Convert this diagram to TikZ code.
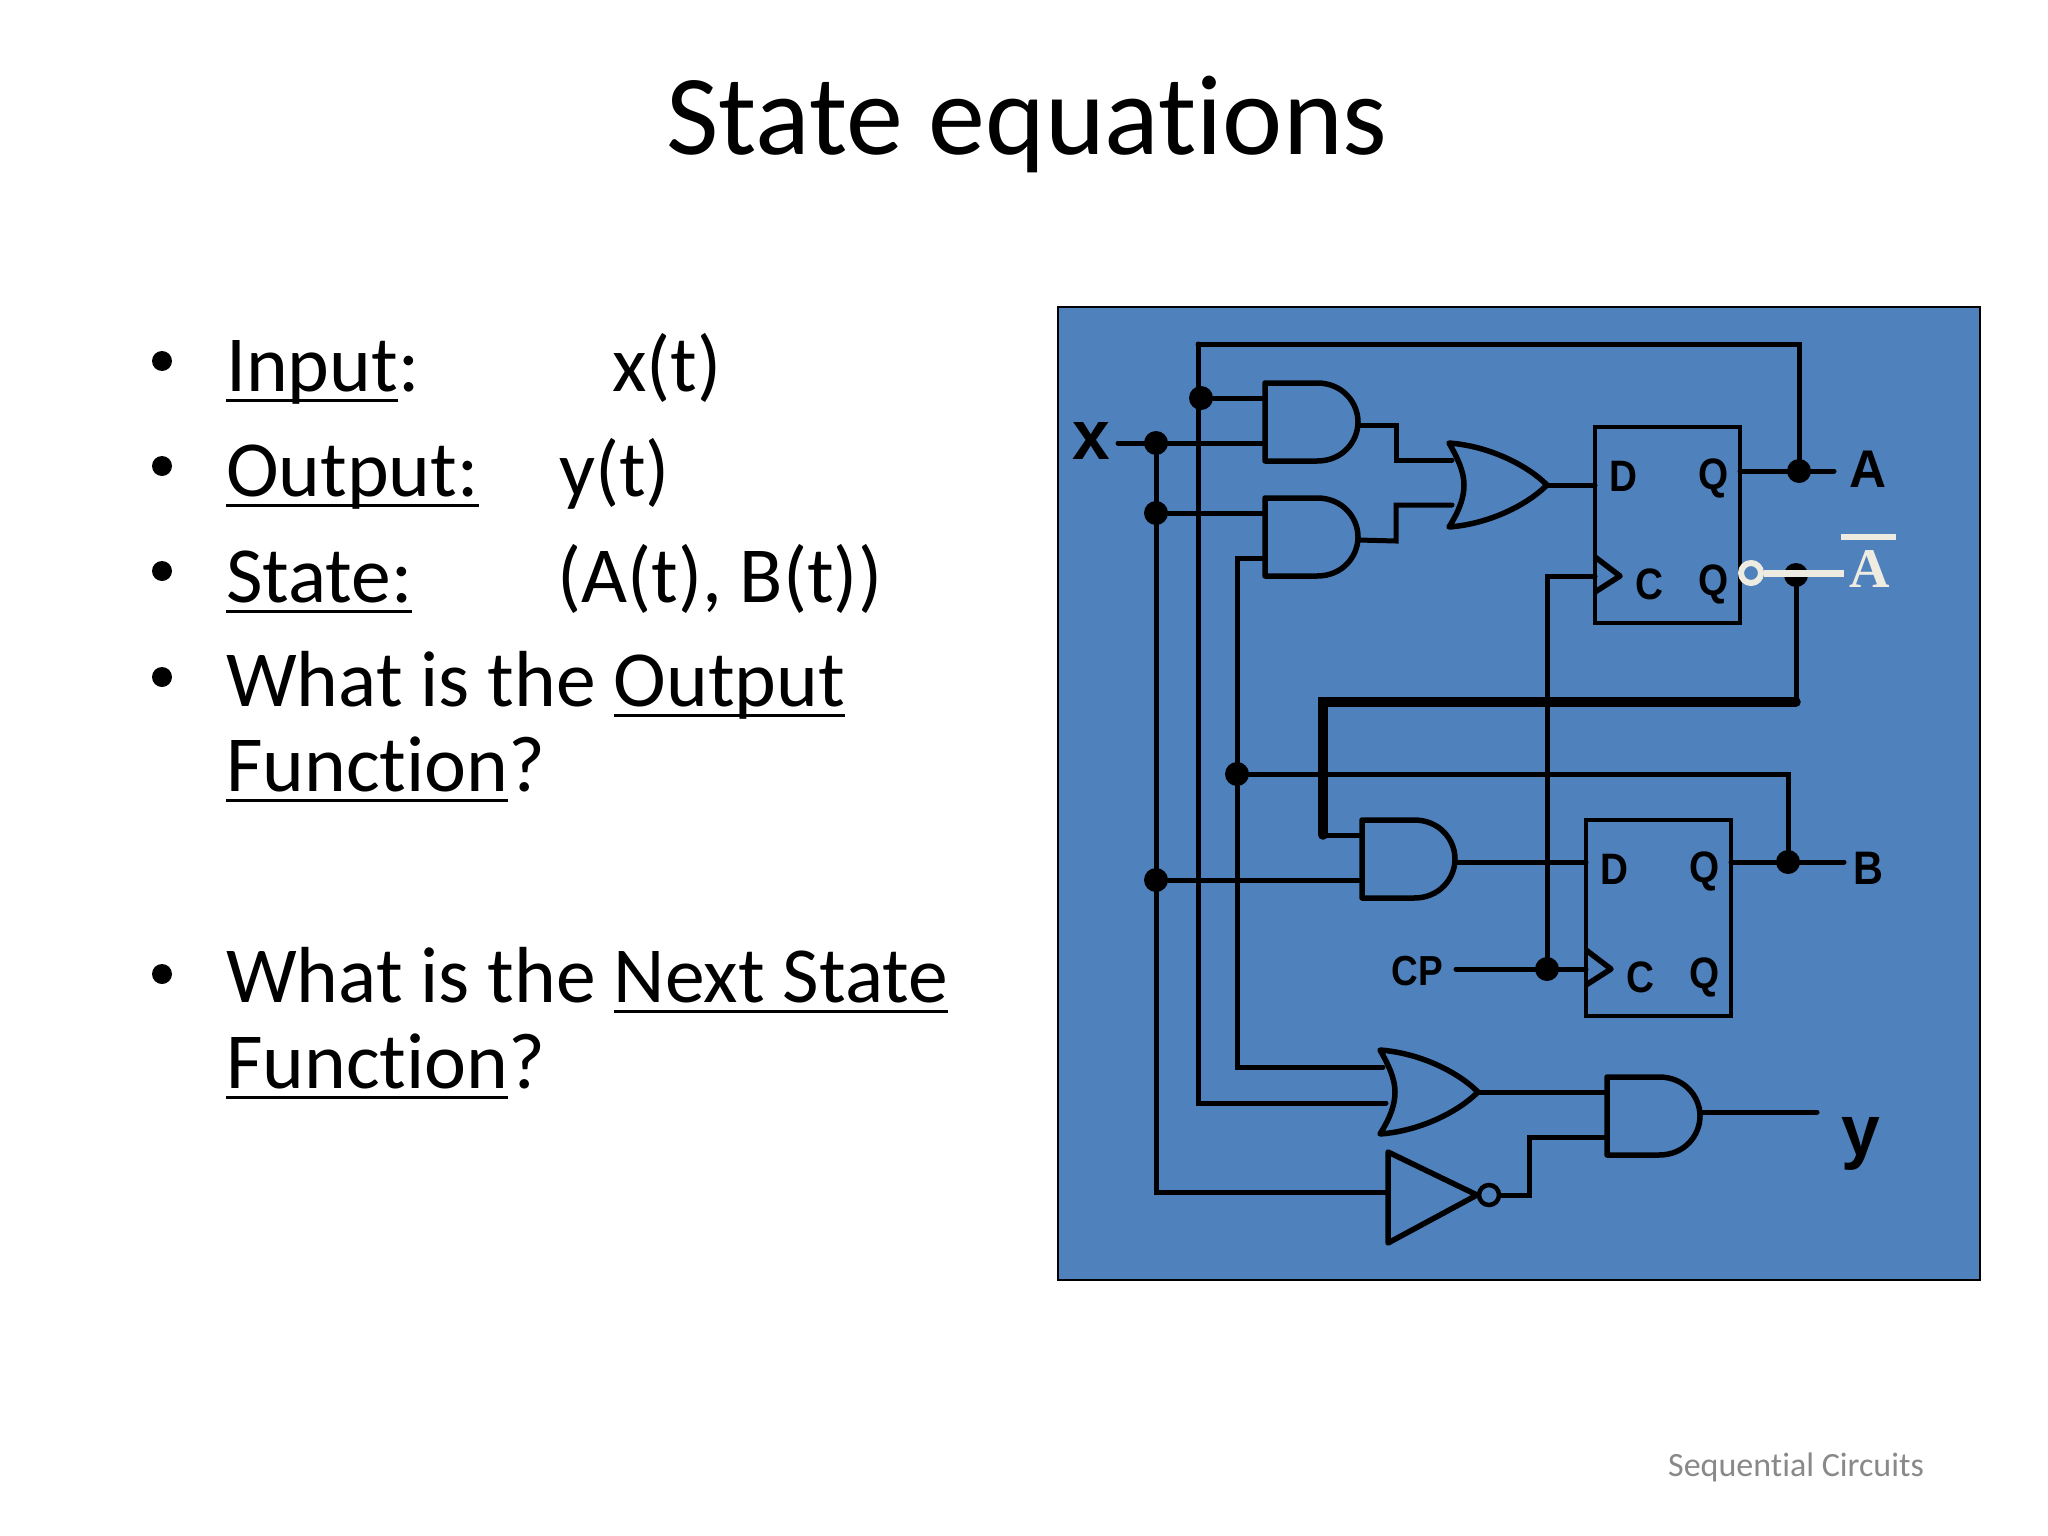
\documentclass[tikz,border=0pt]{standalone}
\usepackage{fontspec}
\setmainfont[Ligatures=NoCommon]{Carlito}
\newfontfamily\labelfont{Liberation Sans}
\newfontfamily\barfont{Liberation Serif}
\definecolor{slideblue}{HTML}{4F81BD}
\definecolor{barcream}{HTML}{EEECE1}
\definecolor{footgray}{HTML}{898989}
\newlength{\ulwd}
\newcommand{\ulin}[1]{\settowidth{\ulwd}{#1}\rlap{\rule[-11pt]{\ulwd}{3.5pt}}#1}
\newcommand{\txt}[1]{\fontsize{#1}{#1}\selectfont}
\tikzset{
	wire/.style={black, line width=5pt, line cap=round, line join=miter},
	gate line/.style={black, line width=5.5pt, line join=round},
	ff line/.style={black, line width=4pt},
	dot/.style={circle, fill=black, inner sep=0pt, minimum size=24pt},
	item/.style={anchor=base west, inner sep=0pt, font=\txt{79.5}},
	bulletmark/.style={circle, fill=black, inner sep=0pt, minimum size=20pt},
	pin/.style={anchor=base, inner sep=0pt, xscale=.88, font=\labelfont\bfseries\txt{#1}},
	and gate/.pic={
		\draw [gate line] (0,0) -- (52,0) .. controls (78,0) and (93,20) .. (93,39)
			.. controls (93,58) and (78,78) .. (52,78) -- (0,78) -- cycle;
		\coordinate (-a) at (0,15);
		\coordinate (-b) at (0,60);
		\coordinate (-o) at (93,42);
	},
	or gate/.pic={
		\draw [gate line] (0,0) .. controls (40,3) and (78,22) .. (98,42)
			.. controls (78,62) and (40,81) .. (0,84)
			.. controls (10,68) and (15,55) .. (15,42)
			.. controls (15,28) and (8,14) .. (0,0) -- cycle;
		\coordinate (-a) at (3,17);
		\coordinate (-b) at (3,62);
		\coordinate (-o) at (98,42);
	},
	flip flop/.pic={
		\draw [ff line] (0,0) rectangle (145,196);
		\draw [gate line] (0,130) -- (25,149) -- (0,165);
		\node [pin=44] (-d) at (28,64) {D};
		\node [pin=44] (-q) at (119,62) {Q};
		\node [pin=44] (-c) at (54,172) {C};
		\node [pin=44] (-n) at (119,168) {Q};
		\coordinate (-in) at (0,58);
		\coordinate (-inb) at (0,42);
		\coordinate (-clk) at (0,149);
		\coordinate (-out) at (145,42);
	},
}
\begin{document}
\begin{tikzpicture}[x=1pt, y=-1pt]
	\useasboundingbox (0,0) rectangle (2048,1536);
	% slide text
	\node [font=\txt{114}, inner sep=0pt, anchor=base] (title) at (1027,154) {State equations};
	\foreach \y/\n in {361/a, 466/b, 571/c, 677/d, 974/e}
		\node [bulletmark] (bullet\n) at (162,\y) {};
	\node [item] (input) at (226,391) {\ulin{Input}:};
	\node [item] (inputval) at (612,391) {x(t)};
	\node [item] (output) at (226,496) {\ulin{Output:}};
	\node [item] (outputval) at (559,496) {y(t)};
	\node [item] (state) at (226,602) {\ulin{State:}};
	\node [item] (stateval) at (557,602) {(A(t), B(t))};
	\node [item] (outq) at (226,706) {What is the \ulin{Output}};
	\node [item] (outqb) at (226,791) {\ulin{Function}?};
	\node [item] (nextq) at (226,1002) {What is the \ulin{Next State}};
	\node [item] (nextqb) at (226,1088) {\ulin{Function}?};
	\node [font=\txt{34}, text=footgray, inner sep=0pt] (foot) at (1796,1467) {Sequential Circuits};

	% panel
	\draw [fill=slideblue, draw=black, line width=2pt] (1058,307) rectangle (1980,1280);

	% gates
	\pic (andA) at (1265,383) {and gate};
	\pic (andB) at (1265,498) {and gate};
	\pic (orA) at (1449,443) {or gate};
	\pic (ffA) at (1595,427) {flip flop};
	\pic (andC) at (1362,820) {and gate};
	\pic (ffB) at (1586,820) {flip flop};
	\pic (orB) at (1380,1050) {or gate};
	\pic (andD) at (1607,1077) {and gate};
	\draw [gate line] (1388,1152) -- (1388,1243) -- (1477,1195) -- cycle;
	\node [circle, draw=black, line width=4.5pt, inner sep=0pt, minimum size=20pt] (notb) at (1489,1195) {};

	% junctions
	\node [dot] (xa) at (1156,443) {};
	\node [dot] (xb) at (1156,513) {};
	\node [dot] (xc) at (1156,880) {};
	\node [dot] (ab) at (1201,398) {};
	\node [dot] (ya) at (1237,774) {};
	\node [dot] (cp) at (1547,969) {};
	\node [dot] (qa) at (1799,471) {};
	\node [dot] (qb) at (1788,862) {};
	\node [dot] (qn) at (1796,575) {};

	% labels
	\node [pin=70, xscale=1.1] (x) at (1091,459) {x};
	\node [pin=53, xscale=1.1] (A) at (1868,487) {A};
	\node [pin=47] (B) at (1868,884) {B};
	\node [pin=42] (CP) at (1417,985) {CP};
	\node [pin=72, xscale=1.1] (y) at (1861,1155) {y};
	\node [anchor=base, inner sep=0pt, text=barcream, font=\barfont\bfseries\txt{56}] (An) at (1870,587) {A};
	\coordinate (xend) at (1118,443);
	\coordinate (aend) at (1834,471);
	\coordinate (bend) at (1844,862);
	\coordinate (cpend) at (1456,969);
	\coordinate (yend) at (1817,1112);
	\coordinate (nota) at (1388,1192);
	\coordinate (notc) at (1529,1195);
	\coordinate (orBb) at (1386,1103);
	\coordinate (top) at (1198,344);
	\coordinate (bus) at (1323,702);
	\coordinate (busend) at (1323,835);
	\coordinate (cka) at (1547,576);
	\coordinate (ora) at (1396,425);
	\coordinate (orb) at (1396,541);
	\coordinate (nA) at (1751,573);
	\coordinate (nend) at (1844,573);
	\coordinate (bara) at (1841,537);
	\coordinate (barb) at (1896,537);

	% wires
	\draw [wire] (xend) -- (andA-b);
	\draw [wire] (xa) |- (nota);
	\draw [wire] (xb) -- (xb -| andB-a);
	\draw [wire] (xc) -- (xc -| andC-b);
	\draw [wire] (ab) -- (ab -| andA-a);
	\draw [wire] (top) -- (top -| qa) -- (qa);
	\draw [wire] (top) |- (orBb);
	\draw [wire] (andB-b) -| (ya);
	\draw [wire] (ya) |- (orB-a);
	\draw [wire] (ya) -| (qb);
	\draw [wire] (andA-o) -- (ora) |- (orA-a);
	\draw [wire] (andB-o) -- (orb) |- (orA-b);
	\draw [wire] (orA-o) -- (ffA-in);
	\draw [wire] (cpend) -- (ffB-clk);
	\draw [wire] (cp) -- (cka) -- (ffA-clk);
	\draw [wire] (ffA-out |- aend) -- (aend);
	\draw [wire] (ffB-out) -- (bend);
	\draw [wire] (andC-o) -- (ffB-inb);
	\draw [wire] (orB-o) -- (orB-o -| andD-a);
	\draw [wire] (notb) -- (notc) |- (andD-b);
	\draw [wire] (andD-o |- yend) -- (yend);
	\draw [wire] (qn) -- (qn |- bus);
	\draw [wire, line width=9.5pt] (qn |- bus) -- (bus) -- (busend);
	\draw [wire] (busend) -- (andC-a);

	% inverted output
	\node [circle, draw=barcream, line width=6pt, inner sep=0pt, minimum size=20pt] (nb) at (nA) {};
	\draw [barcream, line width=7pt] (nb) -- (nend);
	\draw [barcream, line width=6pt] (bara) -- (barb);
\end{tikzpicture}
\end{document}
